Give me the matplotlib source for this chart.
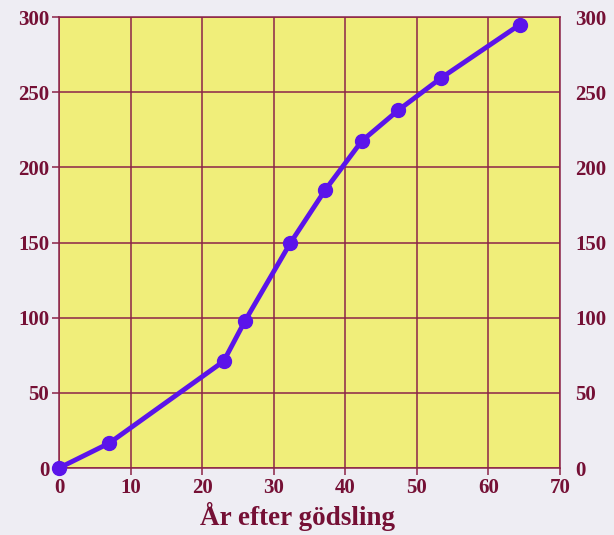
import matplotlib
matplotlib.use("Agg")
import matplotlib.pyplot as plt

years = [0, 7, 23, 26, 32.3, 37.2, 42.3, 47.4, 53.4, 64.4]
values = [0, 16.5, 71, 98, 149.5, 185, 217.5, 238, 259.5, 295]
xticks = [0, 10, 20, 30, 40, 50, 60, 70]
yticks = [0, 50, 100, 150, 200, 250, 300]
xlabel = "År efter gödsling"

maroon = "#751035"
grid_c = "#8c2448"
yellow = "#f0ee7a"
purple = "#5b14ea"
bg = "#eeedf3"

plt.rcParams['font.family'] = ['Liberation Serif', 'DejaVu Serif']
fig = plt.figure(figsize=(6.14, 5.35), dpi=100, facecolor=bg)
ax = fig.add_axes([0.0961, 0.1252, 0.816, 0.843])
ax.set_facecolor(yellow)
ax.plot(years, values, color=purple, lw=3.5, marker='o', ms=10, zorder=3, clip_on=False)
ax.set_xlim(0, 70)
ax.set_ylim(0, 300)
ax.set_xticks(xticks)
ax.set_yticks(yticks)
ax.grid(True, color=grid_c, lw=1.1)
ax.set_axisbelow(True)
for s in ax.spines.values():
    s.set_color(grid_c)
    s.set_linewidth(1.1)
ax.tick_params(axis='both', colors=grid_c, length=5, width=1.1, labelcolor=maroon, labelsize=15)
ax.tick_params(axis='x', pad=2)
ax.tick_params(axis='y', pad=2)
for lab in ax.get_xticklabels() + ax.get_yticklabels():
    lab.set_fontweight('bold')
ax.set_xlabel(xlabel, fontsize=19.5, fontweight='bold', color=maroon)
ax.xaxis.set_label_coords(0.476, -0.075)

ax2 = ax.twinx()
ax2.set_ylim(0, 300)
ax2.set_yticks(yticks)
ax2.tick_params(axis='y', length=0, pad=11, labelcolor=maroon, labelsize=15)
for lab in ax2.get_yticklabels():
    lab.set_fontweight('bold')
for s in ax2.spines.values():
    s.set_visible(False)

fig.savefig("out.png", dpi=100, facecolor=bg)
